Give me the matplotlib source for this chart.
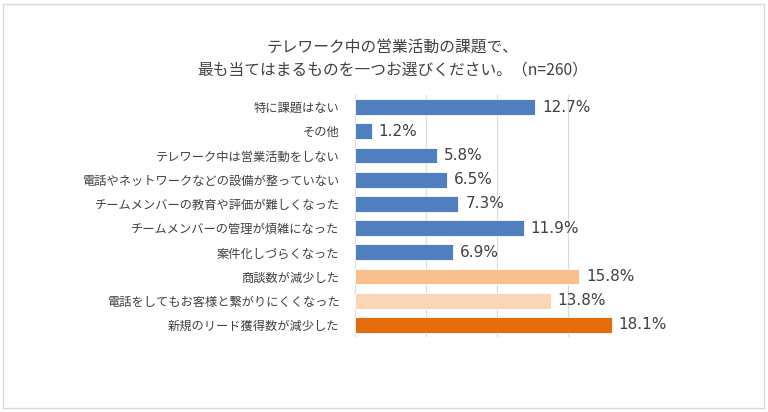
import matplotlib
matplotlib.use("Agg")
import matplotlib.pyplot as plt
from matplotlib.patches import Rectangle

plt.rcParams['font.family'] = ['Noto Sans CJK JP', 'DejaVu Sans']

categories = [
    "特に課題はない",
    "その他",
    "テレワーク中は営業活動をしない",
    "電話やネットワークなどの設備が整っていない",
    "チームメンバーの教育や評価が難しくなった",
    "チームメンバーの管理が煩雑になった",
    "案件化しづらくなった",
    "商談数が減少した",
    "電話をしてもお客様と繋がりにくくなった",
    "新規のリード獲得数が減少した",
]
values = [12.7, 1.2, 5.8, 6.5, 7.3, 11.9, 6.9, 15.8, 13.8, 18.1]
colors = ["#4F7FBE"] * 7 + ["#F9C08F", "#FCD5B4", "#E46C0A"]
xticks = [0, 5, 10, 15, 20]
title = "テレワーク中の営業活動の課題で、\n最も当てはまるものを一つお選びください。（n=260）"

fig = plt.figure(figsize=(7.68, 4.12), dpi=100)
fig.patch.set_facecolor("white")
fig.add_artist(Rectangle((3 / 768, 4 / 412), 761 / 768, 404 / 412,
                         transform=fig.transFigure, fill=False,
                         edgecolor="#D9D9D9", linewidth=1))

ax = fig.add_axes([354.7 / 768, 1 - 337 / 412, 284 / 768, 242 / 412])
y = list(range(len(categories)))
bars = ax.barh(y, values, height=0.66, color=colors, edgecolor="white", linewidth=0.6, zorder=3)
ax.set_ylim(len(categories) - 0.5, -0.5)
ax.set_xlim(0, 20)
ax.set_xticks(xticks)
ax.set_xticklabels([])
ax.set_yticks(y)
ax.set_yticklabels(categories, fontsize=8.8, color="#404040")
ax.tick_params(axis="both", length=0)
ax.tick_params(axis="y", pad=11)
ax.grid(axis="x", color="#D9D9D9", linewidth=0.8, zorder=0)
for s in ax.spines.values():
    s.set_visible(False)

for b, v in zip(bars, values):
    ax.annotate(f"{v:.1f}%", (b.get_width(), b.get_y() + b.get_height() / 2),
                xytext=(5, 0), textcoords="offset points", va="center", ha="left",
                fontsize=11, color="#404040", family=["DejaVu Sans"])

fig.text(393 / 768, 1 - 59 / 412, title, ha="center", va="center", fontsize=11.3,
         color="#404040", linespacing=1.4)

fig.savefig("out.png", dpi=100)
